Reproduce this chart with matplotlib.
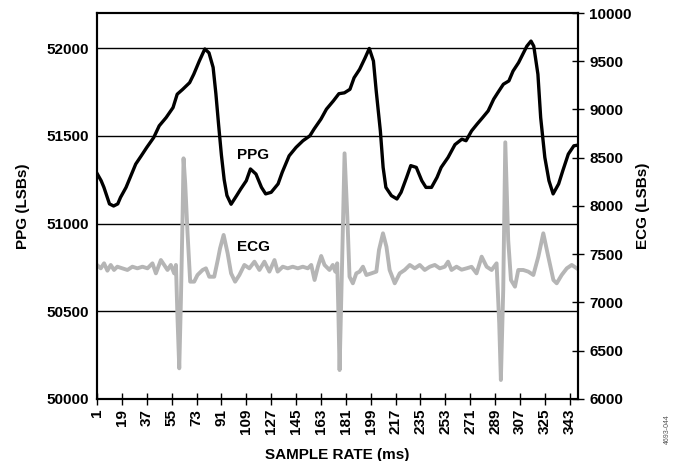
import matplotlib.pyplot as plt

plt.rcParams["font.family"] = ["Liberation Sans", "DejaVu Sans"]
plt.rcParams["font.weight"] = "bold"

# PPG trace (left axis), sample index vs LSBs
ppg_x = [1, 4, 6, 10, 13, 16, 18, 22, 25, 29, 33, 37, 42, 46, 51, 56, 59, 63,
         68, 71, 75, 79, 82, 85, 87, 89, 91, 93, 95, 98, 102, 105, 109, 112,
         116, 120, 123, 127, 132, 135, 140, 145, 150, 155, 158, 163, 167, 172,
         176, 180, 184, 187, 191, 195, 198, 201, 203, 206, 208, 210, 214, 218,
         221, 225, 228, 232, 236, 239, 243, 247, 250, 255, 260, 265, 268, 272,
         276, 280, 284, 288, 291, 295, 299, 302, 306, 309, 312, 315, 317, 320,
         322, 325, 328, 331, 335, 338, 342, 346, 349]
ppg_y = [51286, 51244, 51206, 51112, 51100, 51112, 51149, 51206, 51263, 51339,
         51386, 51434, 51490, 51557, 51604, 51661, 51737, 51765, 51803, 51851,
         51926, 51995, 51973, 51890, 51740, 51560, 51390, 51250, 51160, 51110,
         51159, 51197, 51244, 51311, 51282, 51206, 51169, 51178, 51226, 51292,
         51386, 51434, 51472, 51500, 51538, 51595, 51652, 51699, 51740, 51745,
         51765, 51831, 51879, 51945, 51998, 51926, 51756, 51528, 51320, 51206,
         51159, 51140, 51178, 51263, 51330, 51320, 51244, 51206, 51206, 51263,
         51320, 51377, 51450, 51481, 51472, 51528, 51567, 51604, 51642, 51709,
         51746, 51794, 51813, 51869, 51917, 51964, 52011, 52040, 52011, 51851,
         51604, 51377, 51244, 51169, 51226, 51301, 51396, 51443, 51447]

# ECG trace (right axis)
ecg_x = [1, 3.7, 6.1, 8.5, 10.9, 13.3, 15.7, 19.3, 23, 26.6, 30.2, 33.9, 37.5,
         41.1, 43.6, 47.2, 49.6, 52, 54.4, 56.8, 58.1, 59.2, 60.5, 61.7, 62.9,
         63.6, 64.8, 66.5, 68.4, 71.3, 73.7, 77.4, 79.8, 82.2, 85.8, 88.5, 90,
         92.6, 95.5, 98, 100.9, 104, 107.6, 111.2, 114.9, 118.5, 122.1, 125.7,
         129.4, 131.7, 135.4, 139, 142.6, 146.3, 149.9, 153.5, 156, 158.4,
         160.8, 163.2, 165.6, 169.2, 171.6, 173.4, 174.8, 175.7, 176.5, 178.3,
         180.1, 182.1, 183.7, 186.1, 188.6, 191, 193.4, 195.9, 199.5, 203.1,
         205, 207.9, 210.4, 212.7, 216.4, 220, 223.6, 227.3, 230.9, 234.5,
         238.1, 241.8, 245.4, 249, 252.6, 255, 257.5, 261.1, 264.8, 268.4, 272,
         275.6, 279.3, 282.9, 286.5, 290.1, 292, 293.2, 294.9, 296.4, 298.5,
         300.5, 303.4, 305.8, 309.4, 313, 316.7, 320.3, 323.9, 327.5, 331.2,
         333.6, 337.2, 340.9, 344.5, 348.1]
ecg_y = [7389, 7354, 7406, 7330, 7389, 7337, 7371, 7354, 7337, 7371, 7354, 7371,
         7354, 7406, 7302, 7440, 7389, 7337, 7389, 7302, 7389, 6853, 6318, 7026,
         7889, 8494, 8235, 7717, 7216, 7216, 7285, 7337, 7354, 7267, 7267, 7450,
         7560, 7700, 7510, 7302, 7216, 7285, 7389, 7354, 7423, 7337, 7423, 7320,
         7440, 7320, 7371, 7354, 7371, 7354, 7371, 7354, 7389, 7233, 7371, 7482,
         7389, 7337, 7389, 7320, 7406, 6853, 6300, 7400, 8546, 7889, 7267, 7199,
         7302, 7320, 7371, 7285, 7302, 7320, 7544, 7717, 7578, 7337, 7199, 7302,
         7337, 7389, 7354, 7389, 7337, 7371, 7389, 7354, 7371, 7423, 7337, 7371,
         7340, 7354, 7370, 7302, 7475, 7371, 7337, 7406, 6784, 6197, 7130, 8660,
         7648, 7233, 7164, 7337, 7337, 7320, 7285, 7475, 7717, 7475, 7233, 7199,
         7285, 7354, 7389, 7354]

x_ticks = list(range(1, 344, 18))
ppg_ticks = [50000, 50500, 51000, 51500, 52000]
ecg_ticks = list(range(6000, 10001, 500))

fig = plt.figure(figsize=(6.78, 4.61), dpi=100)
ax = fig.add_axes([0.1431, 0.1345, 0.7094, 0.8373])
ax2 = ax.twinx()

# horizontal grid from the PPG scale
for v in ppg_ticks[1:]:
    ax.axhline(v, color="black", linewidth=1.0, zorder=1)

ax.plot(ppg_x, ppg_y, color="black", linewidth=2.4, zorder=3)
ax2.plot(ecg_x, ecg_y, color="#b5b5b5", linewidth=2.8)

ax.set_xlim(1, 349)
ax.set_ylim(50000, 52200)
ax2.set_ylim(6000, 10000)

ax.set_xticks(x_ticks)
ax.set_xticklabels([str(t) for t in x_ticks], rotation=90, fontsize=11, fontweight="bold")
ax.set_yticks(ppg_ticks)
ax.set_yticklabels([str(t) for t in ppg_ticks], fontsize=11, fontweight="bold")
ax2.set_yticks(ecg_ticks)
ax2.set_yticklabels([str(t) for t in ecg_ticks], fontsize=11, fontweight="bold")

ax.tick_params(axis="x", direction="inout", length=8, width=1, pad=3)
ax.tick_params(axis="y", length=0, pad=6)
ax2.tick_params(axis="y", direction="inout", length=8, width=1, pad=4)

for a in (ax, ax2):
    for s in a.spines.values():
        s.set_linewidth(1.5)

ax.set_xlabel("SAMPLE RATE (ms)", fontsize=11, fontweight="bold", labelpad=10)
ax.set_ylabel("PPG (LSBs)", fontsize=11, fontweight="bold", labelpad=12)
ax2.set_ylabel("ECG (LSBs)", fontsize=11, fontweight="bold", rotation=90, labelpad=3)

ax.text(114, 51392, "PPG", fontsize=11, fontweight="bold", ha="center", va="center", zorder=4)
ax.text(114, 50865, "ECG", fontsize=11, fontweight="bold", ha="center", va="center", zorder=4)

fig.text(0.985, 0.07, "4693-044", fontsize=5, color="#555555", rotation=90,
         ha="center", va="center", fontweight="normal")

fig.savefig("out.png", dpi=100)
